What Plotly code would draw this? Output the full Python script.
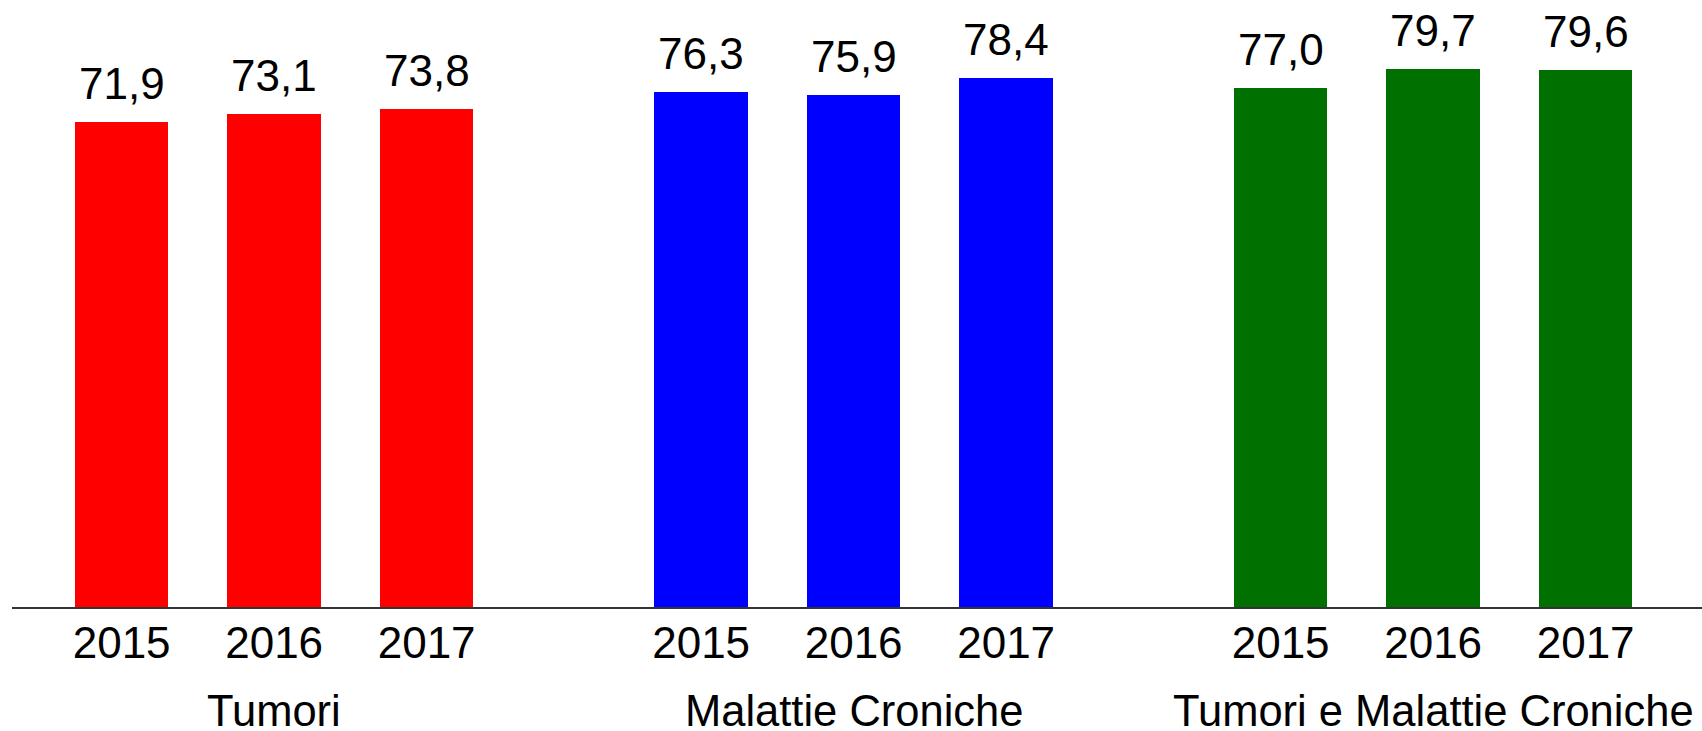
import plotly.graph_objects as go

groups = ["Tumori", "Malattie Croniche", "Tumori e Malattie Croniche"]
years = ["2015", "2016", "2017"]
tumori = [71.9, 73.1, 73.8]
croniche = [76.3, 75.9, 78.4]
tumori_croniche = [77.0, 79.7, 79.6]

colors = ["#FF0000", "#0000FF", "#007000"]
font_family = "Arial, 'Liberation Sans', sans-serif"
group_gap = 0.8  # extra space between groups, in bar slots

series = [tumori, croniche, tumori_croniche]

fig = go.Figure()
tickvals, ticktext = [], []
for g, (name, vals) in enumerate(zip(groups, series)):
    xs = [g * (len(years) + group_gap) + i for i in range(len(years))]
    tickvals += xs
    ticktext += years
    fig.add_trace(go.Bar(x=xs,
                         y=vals,
                         name=name,
                         width=0.612,
                         marker=dict(color=colors[g], line=dict(width=0)),
                         hoverinfo="y"))
    # value labels with decimal comma
    for x, v in zip(xs, vals):
        fig.add_annotation(x=x, y=v, xref="x", yref="y",
                           text=f"{v:.1f}".replace(".", ","),
                           showarrow=False,
                           yanchor="bottom",
                           yshift=12,
                           font=dict(size=44, color="black", family=font_family))
    # group label under the middle bar
    fig.add_annotation(x=xs[1], y=0, xref="x", yref="paper",
                       text=name,
                       showarrow=False,
                       yanchor="top",
                       yshift=-78,
                       font=dict(size=43.5, color="black", family=font_family))

fig.update_layout(width=1702,
                  height=731,
                  margin=dict(l=12, r=0, t=0, b=124),
                  plot_bgcolor="white",
                  paper_bgcolor="white",
                  showlegend=False,
                  bargap=0,
                  font=dict(family=font_family, color="black"))

fig.update_xaxes(range=[-0.719, 10.363],
                 tickvals=tickvals,
                 ticktext=ticktext,
                 tickfont=dict(size=44, color="black"),
                 ticks="",
                 ticklabelstandoff=-4,
                 showgrid=False,
                 zeroline=False,
                 showline=True,
                 linecolor="#333333",
                 linewidth=2)
fig.update_yaxes(range=[0, 90],
                 visible=False,
                 showgrid=False,
                 zeroline=False)

# drop the default 8px body margin so the figure fills the window exactly
fig.write_html("out.html",
               config={"displayModeBar": False},
               post_script="document.body.style.margin='0';")
